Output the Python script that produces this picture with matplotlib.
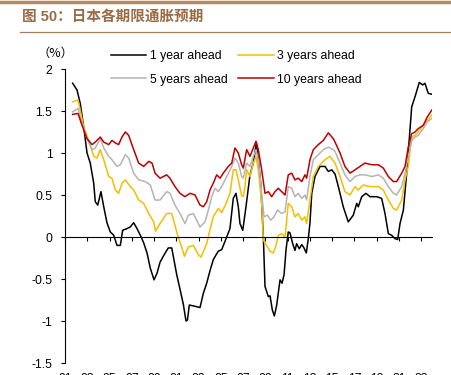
"""
Japan inflation expectations by horizon (1 / 3 / 5 / 10 years ahead).
Values read off the reference chart by eye.
"""
import matplotlib
matplotlib.use("Agg")
import matplotlib.pyplot as plt
from matplotlib.lines import Line2D

plt.rcParams["font.family"] = ["Liberation Sans", "Noto Sans CJK SC", "DejaVu Sans"]

TITLE = "图 50：日本各期限通胀预期"
UNIT = "（%）"

# ---- data (decimal years, %) ----
t_1y = [1991.69, 1992.08, 1992.37, 1992.68, 1992.98, 1993.27, 1993.58, 1993.72, 1993.94,
        1994.23, 1994.48, 1994.77, 1995.07, 1995.38, 1995.67, 1995.97, 1996.18, 1996.57,
        1996.87, 1997.17, 1997.47, 1997.77, 1998.07, 1998.37, 1998.66, 1999.0, 1999.27,
        1999.54, 1999.83, 2000.14, 2000.28, 2000.59, 2000.73, 2001.04, 2001.33, 2001.63,
        2001.87, 2002.0, 2002.17, 2002.53, 2003.13, 2003.43, 2003.73, 2004.03, 2004.32,
        2004.63, 2004.77, 2005.08, 2005.53, 2005.82, 2006.12, 2006.36, 2006.57, 2006.72,
        2006.97, 2007.26, 2007.62, 2007.92, 2008.19, 2008.37, 2008.58, 2008.82, 2008.97,
        2009.27, 2009.42, 2009.63, 2009.81, 2010.02, 2010.32, 2010.5, 2010.68, 2010.86,
        2011.06, 2011.21, 2011.46, 2011.66, 2011.81, 2012.05, 2012.27, 2012.47, 2012.68,
        2012.86, 2013.01, 2013.17, 2013.46, 2013.91, 2014.36, 2014.66, 2014.96, 2015.26,
        2015.56, 2016.0, 2016.45, 2016.9, 2017.21, 2017.35, 2017.66, 2018.04, 2018.4,
        2019.0, 2019.45, 2019.75, 2020.05, 2020.35, 2020.65, 2020.89, 2021.1, 2021.4,
        2021.7, 2022.15, 2022.45, 2022.83, 2023.14, 2023.34, 2023.64, 2023.95]
one_year = [1.83, 1.75, 1.59, 1.31, 1.00, 0.88, 0.64, 0.42, 0.38,
            0.54, 0.36, 0.17, 0.06, 0.02, -0.10, -0.10, 0.08, 0.10,
            0.12, 0.17, 0.10, 0.02, -0.07, -0.19, -0.37, -0.51, -0.43,
            -0.30, -0.23, -0.16, -0.13, -0.13, -0.23, -0.45, -0.62, -0.80,
            -1.00, -0.99, -0.81, -0.82, -0.84, -0.67, -0.55, -0.40, -0.27,
            -0.20, -0.17, -0.15, 0.0, 0.10, 0.46, 0.52, 0.36, 0.16,
            0.08, 0.36, 0.74, 0.88, 1.12, 0.92, 0.64, 0.0, -0.59,
            -0.71, -0.70, -0.87, -0.94, -0.81, -0.51, -0.55, -0.45, -0.15,
            0.06, 0.05, -0.08, -0.16, -0.08, -0.14, -0.09, -0.13, -0.19,
            -0.02, 0.17, 0.52, 0.72, 0.84, 0.84, 0.78, 0.80, 0.75,
            0.60, 0.36, 0.18, 0.26, 0.40, 0.36, 0.48, 0.52, 0.48,
            0.48, 0.46, 0.28, 0.04, 0.02, -0.02, -0.03, 0.16, 0.32,
            0.76, 1.55, 1.67, 1.84, 1.81, 1.83, 1.71, 1.70]

t_3y = [1991.69, 1992.17, 1992.37, 1992.68, 1993.13, 1993.58, 1993.88, 1994.17, 1994.48,
        1994.93, 1995.22, 1995.52, 1995.82, 1996.12, 1996.42, 1996.87, 1997.17, 1997.62,
        1998.07, 1998.52, 1998.97, 1999.13, 1999.54, 2000.14, 2000.59, 2000.88, 2001.1,
        2001.48, 2001.73, 2002.08, 2002.53, 2002.98, 2003.22, 2003.73, 2004.03, 2004.32,
        2004.77, 2005.08, 2005.47, 2005.82, 2006.12, 2006.36, 2006.57, 2006.87, 2007.02,
        2007.17, 2007.32, 2007.62, 2007.92, 2008.16, 2008.37, 2008.67, 2008.82, 2009.12,
        2009.42, 2009.72, 2009.96, 2010.16, 2010.47, 2010.77, 2011.06, 2011.37, 2011.66,
        2011.96, 2012.27, 2012.56, 2012.71, 2013.01, 2013.31, 2013.76, 2014.36, 2014.81,
        2015.26, 2015.71, 2016.15, 2016.61, 2017.06, 2017.35, 2017.8, 2018.4, 2019.15,
        2019.6, 2020.05, 2020.5, 2020.8, 2021.25, 2021.55, 2021.84, 2022.15, 2022.45,
        2022.74, 2023.19, 2023.55, 2023.95]
three_years = [1.61, 1.63, 1.51, 1.31, 1.15, 0.96, 0.94, 1.04, 0.92,
               0.72, 0.70, 0.56, 0.52, 0.64, 0.68, 0.60, 0.56, 0.44,
               0.40, 0.28, 0.18, 0.07, 0.16, 0.28, 0.28, 0.14, 0.03,
               -0.12, -0.23, -0.12, -0.10, -0.21, -0.24, -0.08, 0.09, 0.24,
               0.34, 0.29, 0.40, 0.52, 0.80, 0.80, 0.68, 0.49, 0.48,
               0.60, 0.80, 0.72, 0.88, 0.96, 0.80, 0.40, -0.04, -0.10,
               -0.17, -0.19, -0.10, 0.02, 0.04, 0.0, 0.40, 0.36, 0.24,
               0.28, 0.20, 0.24, 0.16, 0.44, 0.72, 0.84, 0.92, 0.96,
               0.88, 0.72, 0.54, 0.50, 0.60, 0.56, 0.62, 0.60, 0.60,
               0.56, 0.44, 0.34, 0.32, 0.44, 0.68, 0.84, 1.19, 1.21,
               1.25, 1.33, 1.39, 1.45]

t_5y = [1991.69, 1992.17, 1992.53, 1992.98, 1993.43, 1993.72, 1994.17, 1994.48, 1994.93,
        1995.22, 1995.67, 1995.97, 1996.42, 1996.72, 1997.17, 1997.62, 1998.21, 1998.66,
        1999.09, 1999.54, 2000.14, 2000.43, 2000.88, 2001.33, 2001.78, 2002.08, 2002.53,
        2002.83, 2003.13, 2003.58, 2003.88, 2004.18, 2004.48, 2004.77, 2005.08, 2005.53,
        2005.98, 2006.27, 2006.57, 2006.87, 2007.02, 2007.32, 2007.62, 2007.92, 2008.16,
        2008.37, 2008.67, 2008.88, 2009.18, 2009.48, 2009.78, 2010.08, 2010.47, 2010.77,
        2011.06, 2011.37, 2011.66, 2011.96, 2012.27, 2012.56, 2012.71, 2013.01, 2013.31,
        2013.76, 2014.21, 2014.66, 2015.11, 2015.26, 2015.71, 2016.15, 2016.61, 2017.06,
        2017.5, 2017.95, 2018.56, 2019.15, 2019.6, 2020.05, 2020.5, 2020.8, 2021.25,
        2021.55, 2021.84, 2022.15, 2022.45, 2022.74, 2023.19, 2023.55, 2023.95]
five_years = [1.49, 1.53, 1.35, 1.17, 1.04, 1.06, 1.17, 1.06, 0.96,
              0.92, 0.84, 0.86, 0.98, 0.94, 0.76, 0.68, 0.66, 0.62,
              0.44, 0.44, 0.54, 0.52, 0.38, 0.28, 0.16, 0.26, 0.28,
              0.20, 0.12, 0.18, 0.32, 0.48, 0.58, 0.54, 0.60, 0.72,
              0.84, 0.94, 0.88, 0.72, 0.70, 0.88, 0.84, 0.96, 1.04,
              0.92, 0.52, 0.24, 0.26, 0.20, 0.24, 0.32, 0.28, 0.30,
              0.60, 0.58, 0.48, 0.52, 0.46, 0.50, 0.44, 0.72, 0.92,
              0.98, 1.04, 1.07, 1.04, 1.02, 0.88, 0.74, 0.66, 0.72,
              0.74, 0.74, 0.72, 0.74, 0.70, 0.60, 0.52, 0.50, 0.60,
              0.76, 0.96, 1.15, 1.19, 1.21, 1.29, 1.37, 1.41]

t_10y = [1991.69, 1992.17, 1992.53, 1992.98, 1993.43, 1993.72, 1994.17, 1994.48, 1994.93,
         1995.22, 1995.52, 1995.82, 1996.12, 1996.42, 1996.72, 1997.17, 1997.62, 1998.07,
         1998.52, 1998.82, 1999.09, 1999.54, 2000.14, 2000.43, 2000.88, 2001.33, 2001.78,
         2002.23, 2002.68, 2003.13, 2003.43, 2003.73, 2004.03, 2004.32, 2004.63, 2004.93,
         2005.22, 2005.67, 2005.98, 2006.27, 2006.57, 2006.87, 2007.02, 2007.32, 2007.62,
         2007.92, 2008.16, 2008.37, 2008.67, 2008.97, 2009.27, 2009.57, 2009.87, 2010.16,
         2010.47, 2010.77, 2011.06, 2011.37, 2011.66, 2011.96, 2012.27, 2012.56, 2012.71,
         2013.01, 2013.31, 2013.76, 2014.21, 2014.66, 2015.11, 2015.26, 2015.71, 2016.15,
         2016.61, 2017.06, 2017.5, 2017.95, 2018.56, 2019.15, 2019.6, 2020.05, 2020.5,
         2020.8, 2021.25, 2021.55, 2021.84, 2022.15, 2022.45, 2022.74, 2023.19, 2023.55,
         2023.95]
ten_years = [1.46, 1.47, 1.33, 1.17, 1.10, 1.13, 1.19, 1.13, 1.10,
             1.15, 1.12, 1.10, 1.19, 1.25, 1.21, 1.04, 0.88, 0.84,
             0.90, 0.88, 0.76, 0.70, 0.74, 0.70, 0.60, 0.52, 0.48,
             0.52, 0.50, 0.38, 0.36, 0.42, 0.56, 0.64, 0.74, 0.70,
             0.76, 0.84, 0.88, 1.06, 1.00, 0.86, 0.82, 1.04, 0.96,
             1.06, 1.14, 1.04, 0.80, 0.52, 0.54, 0.48, 0.54, 0.58,
             0.54, 0.50, 0.74, 0.76, 0.68, 0.70, 0.66, 0.74, 0.70,
             0.92, 1.04, 1.10, 1.15, 1.24, 1.17, 1.13, 1.00, 0.84,
             0.76, 0.80, 0.84, 0.88, 0.86, 0.86, 0.82, 0.72, 0.66,
             0.66, 0.76, 0.84, 1.07, 1.23, 1.25, 1.29, 1.33, 1.43,
             1.51]

year_ticks = list(range(1991, 2024, 2))
year_labels = [f"{y % 100:02d}" for y in year_ticks]
y_ticks = [-1.5, -1, -0.5, 0, 0.5, 1, 1.5, 2]
y_labels = ["-1.5", "-1", "-0.5", "0", "0.5", "1", "1.5", "2"]

BROWN = "#9a6a42"
FS = 8.8

fig = plt.figure(figsize=(4.51, 3.75), dpi=100)
ax = fig.add_axes([65 / 451, 1 - 363 / 375, (432.3 - 65) / 451, (363 - 69) / 375])

l1, = ax.plot(t_1y, one_year, color="black", lw=1.1, label="1 year ahead")
l3, = ax.plot(t_3y, three_years, color="#f5bf00", lw=1.1, label="3 years ahead")
l5, = ax.plot(t_5y, five_years, color="#b4b4b4", lw=1.1, label="5 years ahead")
l10, = ax.plot(t_10y, ten_years, color="#c00000", lw=1.1, label="10 years ahead")

ax.set_xlim(1991, 2024)
ax.set_ylim(-1.5, 2)

# y axis
ax.set_yticks(y_ticks)
ax.set_yticklabels(y_labels)
ax.tick_params(axis="y", direction="out", length=3, width=0.8, pad=6, labelsize=FS)

# x axis line sits on zero, labels stay at the bottom
for s in ("top", "right"):
    ax.spines[s].set_visible(False)
ax.spines["bottom"].set_position(("data", 0))
ax.spines["left"].set_linewidth(0.8)
ax.spines["bottom"].set_linewidth(0.8)
ax.set_xticks(year_ticks)
ax.tick_params(axis="x", direction="out", length=3, width=0.8, labelbottom=False)

# year labels sit under the plot area; the figure edge clips them as in the source
sec = ax.secondary_xaxis(0)
sec.set_xticks(year_ticks)
sec.set_xticklabels(year_labels)
sec.spines["bottom"].set_visible(False)
sec.tick_params(axis="x", length=0, pad=7.5, labelsize=FS)

fig.text(38 / 451, 1 - 53 / 375, UNIT, fontsize=FS, va="center", ha="left",
         family=["Noto Sans CJK SC", "Liberation Sans"])

fig.legend([l1, l5, l3, l10], [l.get_label() for l in (l1, l5, l3, l10)],
           ncol=2, loc="upper left", bbox_to_anchor=(111 / 451, 1 - 50 / 375),
           frameon=False, fontsize=FS, handlelength=2.9, handletextpad=0.25,
           columnspacing=0.9, labelspacing=0.95, borderpad=0, borderaxespad=0)

# title block
fig.text(22 / 451, 1 - 17 / 375, TITLE, fontsize=10.5, fontweight="bold",
         color=BROWN, va="center", ha="left",
         family=["Liberation Sans", "Noto Sans CJK SC"])
fig.add_artist(Line2D([0, 1], [0.996, 0.996], transform=fig.transFigure,
                      color="#b08a66", lw=2.5))
fig.add_artist(Line2D([20 / 451, 1], [1 - 32 / 375, 1 - 32 / 375],
                      transform=fig.transFigure, color="#a47d5a", lw=0.9))

fig.savefig("out.png", dpi=100)
